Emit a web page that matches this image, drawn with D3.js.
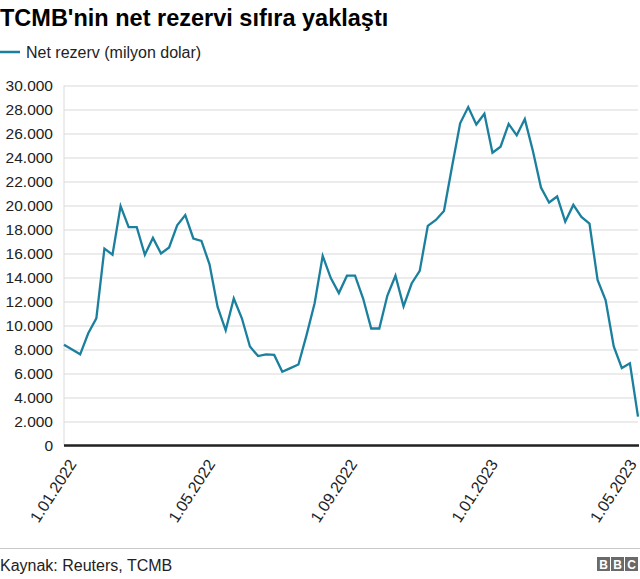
<!DOCTYPE html>
<html>
<head>
<meta charset="utf-8">
<script src="https://cdn.jsdelivr.net/npm/d3@7"></script>
<style>
  body { margin: 0; background: #fff; }
  svg { display: block; font-family: "Liberation Sans", Arial, Helvetica, sans-serif; }
</style>
</head>
<body>
<div id="chart"></div>
<script>
// weekly dates (Fridays) and TCMB net reserve, million USD
var dates = [
  "2021-12-31", "2022-01-07", "2022-01-14", "2022-01-21", "2022-01-28",
  "2022-02-04", "2022-02-11", "2022-02-18", "2022-02-25",
  "2022-03-04", "2022-03-11", "2022-03-18", "2022-03-25",
  "2022-04-01", "2022-04-08", "2022-04-15", "2022-04-22", "2022-04-29",
  "2022-05-06", "2022-05-13", "2022-05-20", "2022-05-27",
  "2022-06-03", "2022-06-10", "2022-06-17", "2022-06-24",
  "2022-07-01", "2022-07-08", "2022-07-15", "2022-07-22", "2022-07-29",
  "2022-08-05", "2022-08-12", "2022-08-19", "2022-08-26",
  "2022-09-02", "2022-09-09", "2022-09-16", "2022-09-23", "2022-09-30",
  "2022-10-07", "2022-10-14", "2022-10-21", "2022-10-28",
  "2022-11-04", "2022-11-11", "2022-11-18", "2022-11-25",
  "2022-12-02", "2022-12-09", "2022-12-16", "2022-12-23", "2022-12-30",
  "2023-01-06", "2023-01-13", "2023-01-20", "2023-01-27",
  "2023-02-03", "2023-02-10", "2023-02-17", "2023-02-24",
  "2023-03-03", "2023-03-10", "2023-03-17", "2023-03-24", "2023-03-31",
  "2023-04-07", "2023-04-14", "2023-04-21", "2023-04-28",
  "2023-05-05", "2023-05-12"
];

var netRezerv = [
  8400, 8000, 7600, 9350, 10600,
  16400, 15900, 19950, 18200,
  18200, 15900, 17300, 16000,
  16500, 18350, 19200, 17250, 17050,
  15100, 11550, 9600, 12250,
  10600, 8250, 7450, 7600,
  7550, 6150, 6450, 6750, 9200,
  11850, 15800, 13950, 12700,
  14150, 14150, 12250, 9750, 9750,
  12500, 14150, 11600, 13500,
  14550, 18300, 18800, 19550,
  23250, 26850, 28200, 26750, 27650,
  24400, 24900, 26800, 25850,
  27200, 24550, 21500, 20250,
  20750, 18650, 20050, 19050, 18500,
  13800, 12100, 8250, 6450,
  6850, 2400
];

var yTicks = [0, 2000, 4000, 6000, 8000, 10000, 12000, 14000, 16000, 18000, 20000, 22000, 24000, 26000, 28000, 30000];
var xTicks = ["2022-01-01", "2022-05-01", "2022-09-01", "2023-01-01", "2023-05-01"];

var title = "TCMB'nin net rezervi sıfıra yaklaştı",
    legendLabel = "Net rezerv (milyon dolar)",
    source = "Kaynak: Reuters, TCMB";

var width = 640,
    height = 579,
    margin = {top: 85.5, right: 2, bottom: 133.5, left: 64},
    lineColor = "#1b7f9e";

var parse = d3.timeParse("%Y-%m-%d"),
    trFormat = d3.formatLocale({decimal: ",", thousands: ".", grouping: [3], currency: ["", ""]}).format(",d"),
    tickFormat = d3.timeFormat("%-d.%m.%Y");

var data = dates.map(function (d, i) { return {date: parse(d), value: netRezerv[i]}; });

var svg = d3.select("#chart").append("svg")
    .attr("width", width)
    .attr("height", height);

svg.append("rect").attr("width", width).attr("height", height).attr("fill", "#fff");

var x = d3.scaleTime()
    .domain(d3.extent(data, function (d) { return d.date; }))
    .range([margin.left, width - margin.right]);

var y = d3.scaleLinear()
    .domain([0, 30000])
    .range([height - margin.bottom, margin.top]);

/* ---------- title & legend ---------- */
svg.append("text")
    .attr("x", 0)
    .attr("y", 26)
    .attr("font-size", 23.5)
    .attr("font-weight", "bold")
    .attr("fill", "#000")
    .text(title);

svg.append("line")
    .attr("x1", 0).attr("x2", 20)
    .attr("y1", 52).attr("y2", 52)
    .attr("stroke", lineColor)
    .attr("stroke-width", 2.5);

svg.append("text")
    .attr("x", 26)
    .attr("y", 57.5)
    .attr("font-size", 16)
    .attr("fill", "#222")
    .text(legendLabel);

/* ---------- grid & y axis ---------- */
var yAxis = svg.append("g")
    .attr("transform", "translate(" + margin.left + ",0)")
    .call(d3.axisLeft(y)
      .tickValues(yTicks)
      .tickFormat(trFormat)
      .tickSize(-(width - margin.right - margin.left))
      .tickPadding(11));

yAxis.select(".domain").remove();
yAxis.selectAll(".tick line")
    .attr("stroke", "#d9d9d9")
    .attr("stroke-width", 1);
yAxis.selectAll(".tick text")
    .attr("font-size", 15.5)
    .attr("fill", "#222")
    .attr("font-family", "\"Liberation Sans\", Arial, sans-serif");

svg.append("line")
    .attr("x1", margin.left).attr("x2", margin.left)
    .attr("y1", y(30000)).attr("y2", y(0))
    .attr("stroke", "#d9d9d9");

/* ---------- line ---------- */
var line = d3.line()
    .x(function (d) { return x(d.date); })
    .y(function (d) { return y(d.value); });

svg.append("path")
    .datum(data)
    .attr("fill", "none")
    .attr("stroke", lineColor)
    .attr("stroke-width", 2.3)
    .attr("stroke-linejoin", "miter")
    .attr("d", line);

/* ---------- baseline & x axis ---------- */
svg.append("line")
    .attr("x1", margin.left).attr("x2", width - 1)
    .attr("y1", y(0)).attr("y2", y(0))
    .attr("stroke", "#222")
    .attr("stroke-width", 2.5);

var xAxis = svg.append("g")
    .attr("transform", "translate(0," + y(0) + ")")
    .call(d3.axisBottom(x)
      .tickValues(xTicks.map(parse))
      .tickFormat(tickFormat)
      .tickSize(0));

xAxis.select(".domain").remove();
xAxis.selectAll(".tick text")
    .attr("font-size", 16)
    .attr("fill", "#222")
    .attr("font-family", "\"Liberation Sans\", Arial, sans-serif")
    .attr("text-anchor", "end")
    .attr("dy", 0)
    .attr("transform", "translate(9,17) rotate(-57)");

/* ---------- footer ---------- */
svg.append("line")
    .attr("x1", 0).attr("x2", width)
    .attr("y1", 548.5).attr("y2", 548.5)
    .attr("stroke", "#c8c8c8");

svg.append("text")
    .attr("x", 0)
    .attr("y", 571)
    .attr("font-size", 16)
    .attr("fill", "#222")
    .text(source);

var logo = svg.append("g").attr("transform", "translate(597,557)");
["B", "B", "C"].forEach(function (c, i) {
  logo.append("rect")
      .attr("x", i * 14).attr("y", 0)
      .attr("width", 13).attr("height", 14)
      .attr("fill", "#6a6a6a");
  logo.append("text")
      .attr("x", i * 14 + 6.5).attr("y", 11.5)
      .attr("text-anchor", "middle")
      .attr("font-size", 12)
      .attr("font-weight", "bold")
      .attr("fill", "#fff")
      .text(c);
});
</script>
</body>
</html>
